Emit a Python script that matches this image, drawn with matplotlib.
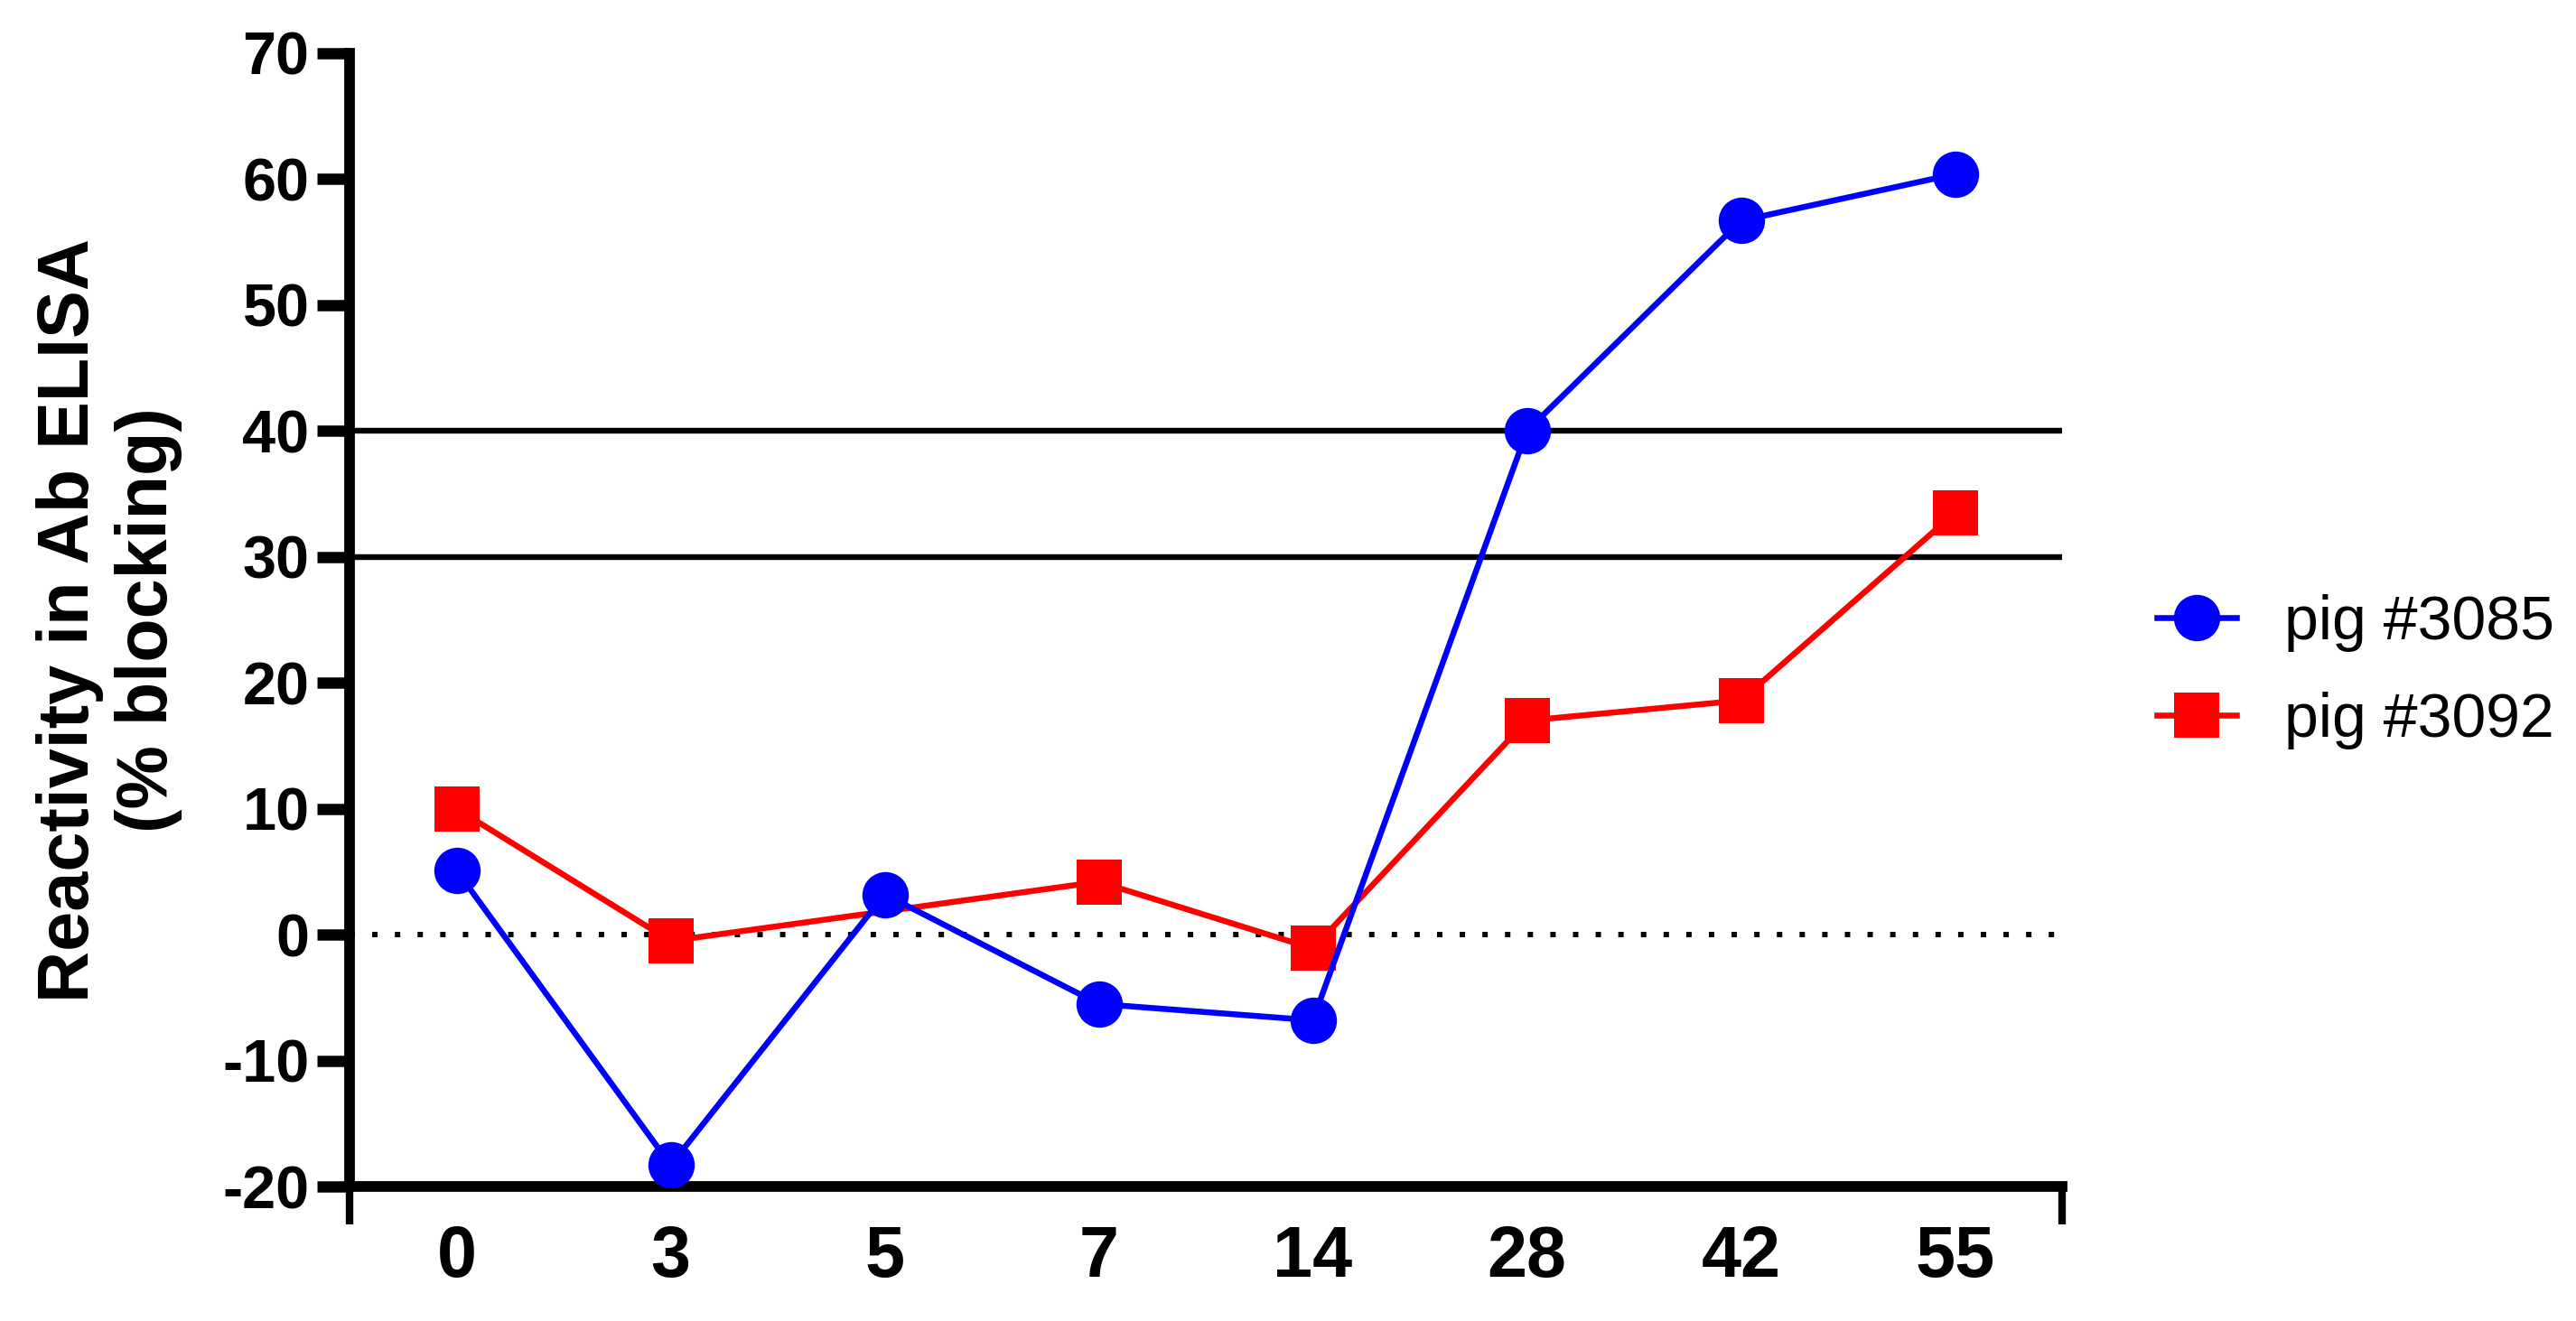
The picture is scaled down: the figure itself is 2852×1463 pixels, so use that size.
import numpy as np
import matplotlib
matplotlib.use('Agg')
import matplotlib.pyplot as plt
from matplotlib.lines import Line2D

# ---- data ----
days = ['0', '3', '5', '7', '14', '28', '42', '55']
pig_3085 = [5.1, -18.3, 3.2, -5.5, -6.8, 40.0, 56.7, 60.4]
pig_3092 = [10.0, -0.5, np.nan, 4.2, -1.1, 17.0, 18.6, 33.5]
series_names = ['pig #3085', 'pig #3092']
cutoffs = [30, 40]
yticks = [-20, -10, 0, 10, 20, 30, 40, 50, 60, 70]
ylabel = 'Reactivity in Ab ELISA\n(% blocking)'

plt.rcParams['font.family'] = ['Liberation Sans', 'DejaVu Sans']
plt.rcParams['axes.unicode_minus'] = False

fig = plt.figure(figsize=(28.52, 14.63), dpi=100)
ax = fig.add_axes([0.1357, 0.1018, 0.6648, 0.8579])

x = np.arange(len(days))

# reference lines
for c in cutoffs:
    ax.axhline(c, color='black', lw=4.6, zorder=1)
ax.axhline(0, color='black', lw=4.3, linestyle=(0, (1, 3.2)), zorder=1)

# series
y2 = np.array(pig_3092, dtype=float)
m2 = ~np.isnan(y2)
ax.plot(x[m2], y2[m2], color='#ff0000', lw=4.7, marker='s', markersize=36,
        markeredgewidth=0, zorder=3, clip_on=False)
y1 = np.array(pig_3085, dtype=float)
ax.plot(x, y1, color='#0000ff', lw=4.7, marker='o', markersize=37,
        markeredgewidth=0, zorder=4, clip_on=False)

ax.set_xlim(-0.5, 7.5)
ax.set_ylim(-20, 70)

for s in ['top', 'right']:
    ax.spines[s].set_visible(False)
for s in ['left', 'bottom']:
    ax.spines[s].set_linewidth(8.5)
    ax.spines[s].set_color('black')

ax.set_yticks(yticks)
ax.set_yticklabels([str(v) for v in yticks], fontsize=48, fontweight='bold')
ax.tick_params(axis='y', length=26, width=9, pad=6)

ax.set_xticks([-0.5, 7.5])
ax.set_xticklabels(['', ''])
ax.tick_params(axis='x', which='major', length=30, width=6)
ax.set_xticks(x, minor=True)
ax.set_xticklabels(days, minor=True, fontsize=57, fontweight='bold')
ax.tick_params(axis='x', which='minor', length=0, pad=30)

ax.set_ylabel(ylabel, fontsize=57, fontweight='bold', labelpad=32)

handles = [
    Line2D([], [], color='#0000ff', lw=4.7, marker='o', markersize=37, markeredgewidth=0),
    Line2D([], [], color='#ff0000', lw=4.7, marker='s', markersize=36, markeredgewidth=0),
]
fig.legend(handles, series_names, loc='center left', bbox_to_anchor=(0.8373, 0.4915),
           frameon=False, fontsize=49, handlelength=1.3, handletextpad=0.77,
           labelspacing=0.65, borderpad=0, borderaxespad=0)

fig.savefig('out.png', dpi=100)
